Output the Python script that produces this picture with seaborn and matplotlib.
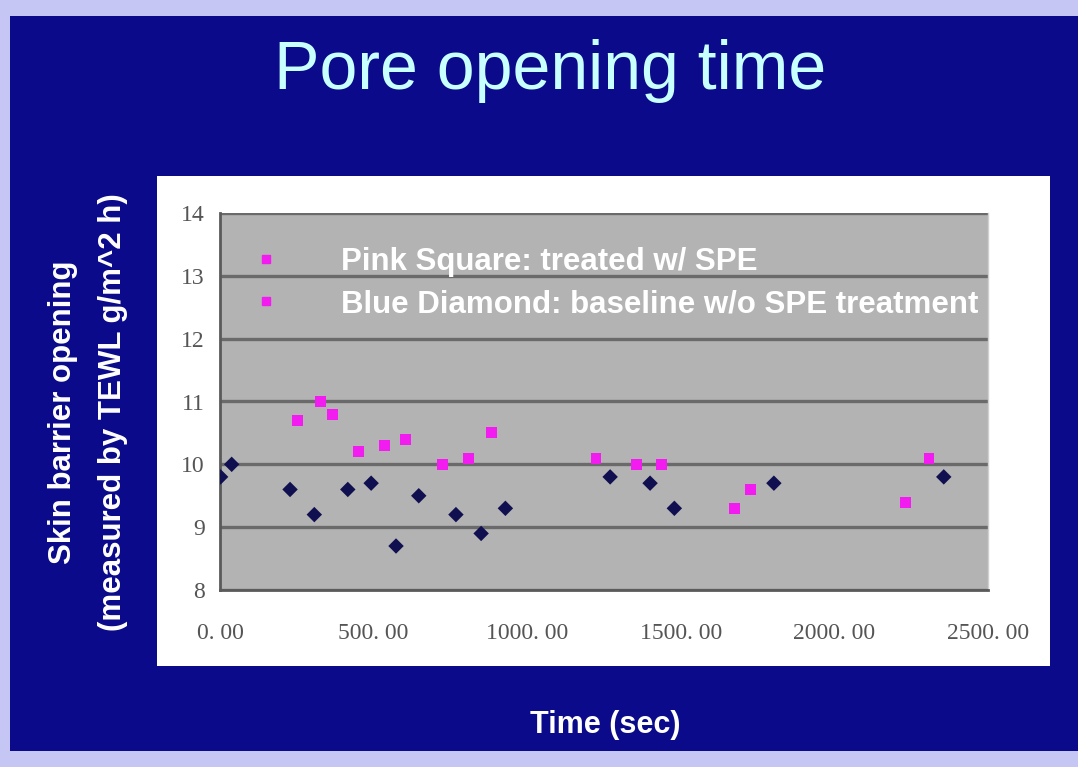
import matplotlib
matplotlib.use("Agg")
import matplotlib.pyplot as plt
import seaborn as sns
import pandas as pd
from matplotlib.patches import Rectangle
from matplotlib.lines import Line2D

# ---- data ----
treated_time = [253, 326, 367, 450, 535, 604, 723, 809, 885, 1224, 1356, 1438, 1674, 1728, 2232, 2308]
treated_tewl = [10.7, 11.0, 10.8, 10.2, 10.3, 10.4, 10.0, 10.1, 10.5, 10.1, 10.0, 10.0, 9.3, 9.6, 9.4, 10.1]
baseline_time = [2, 38, 228, 307, 416, 492, 573, 647, 768, 850, 929, 1270, 1400, 1479, 1803, 2356]
baseline_tewl = [9.8, 10.0, 9.6, 9.2, 9.6, 9.7, 8.7, 9.5, 9.2, 8.9, 9.3, 9.8, 9.7, 9.3, 9.7, 9.8]
x_ticks = [0, 500, 1000, 1500, 2000, 2500]
x_tick_labels = ["0. 00", "500. 00", "1000. 00", "1500. 00", "2000. 00", "2500. 00"]
y_ticks = [8, 9, 10, 11, 12, 13, 14]
legend_labels = ["Pink Square: treated w/ SPE", "Blue Diamond: baseline w/o SPE treatment"]
title_text = "Pore opening time"
x_label = "Time (sec)"
y_label = "Skin barrier opening\n(measured by TEWL g/m^2 h)"

df = pd.DataFrame({
    "time": treated_time + baseline_time,
    "tewl": treated_tewl + baseline_tewl,
    "group": ["treated"] * len(treated_time) + ["baseline"] * len(baseline_time),
})

W, H = 1078, 767
sns.set_theme(style="white")
plt.rcParams["font.family"] = ["Liberation Sans", "DejaVu Sans"]

fig = plt.figure(figsize=(W / 100, H / 100), dpi=100)
fig.patch.set_facecolor("#c6c6f4")

def fr(x0, y0, x1, y1, color, z=0):
    # rectangle in pixel coords (top-left origin)
    fig.patches.append(Rectangle((x0 / W, 1 - y1 / H), (x1 - x0) / W, (y1 - y0) / H,
                                 transform=fig.transFigure, facecolor=color,
                                 edgecolor="none", zorder=z))

fr(10, 16, W, 751, "#0a0a8a", 0)      # slide blue
fr(157, 176, 1050, 666, "white", 1)   # white chart panel

# plot area
ax = fig.add_axes([220 / W, 1 - 590 / H, (988 - 220) / W, (590 - 213) / H])
ax.set_facecolor("#b3b3b3")
ax.set_zorder(2)

sns.scatterplot(data=df, x="time", y="tewl", hue="group", style="group",
                palette={"treated": "#f21cf0", "baseline": "#101050"},
                markers={"treated": "s", "baseline": "D"},
                s=62, linewidth=0, ax=ax, legend=False, zorder=3)

ax.set_xlim(0, 2500)
ax.set_ylim(8, 14)
ax.set_xticks(x_ticks)
ax.set_xticklabels(x_tick_labels)
ax.set_yticks(y_ticks)
ax.set_yticklabels([str(v) for v in y_ticks])
ax.yaxis.grid(True, color="#6a6a6a", linewidth=2.4)
ax.xaxis.grid(False)
ax.set_axisbelow(True)
for side in ["left", "bottom"]:
    ax.spines[side].set_color("#5a5a5a")
    ax.spines[side].set_linewidth(2)
ax.spines["top"].set_visible(False)
ax.spines["right"].set_color("#d0d0d0")
ax.spines["right"].set_linewidth(1)

ax.tick_params(axis="x", direction="in", length=5, color="#666666", pad=24,
               labelsize=17, labelcolor="#555555")
ax.tick_params(axis="y", length=0, pad=11, labelsize=17, labelcolor="#555555")
for lab in ax.get_xticklabels() + ax.get_yticklabels():
    lab.set_family(["Liberation Serif", "DejaVu Serif"])
ax.set_xlabel("")
ax.set_ylabel("")

# legend (both markers pink as in the source)
handles = [Line2D([], [], marker="s", linestyle="none", color="#f21cf0", markersize=6),
           Line2D([], [], marker="s", linestyle="none", color="#f21cf0", markersize=6)]
leg = ax.legend(handles, legend_labels, loc="upper left", bbox_to_anchor=(0.039, 0.91),
                frameon=False, borderaxespad=0, borderpad=0, handlelength=1.0,
                handletextpad=1.9, labelspacing=0.4,
                prop={"family": "Liberation Sans", "weight": "bold", "size": 22.5})
for t in leg.get_texts():
    t.set_color("white")

# slide texts
fig.text(550 / W, 1 - 89 / H, title_text, ha="center", va="baseline",
         color="#c8ffff", fontsize=49, zorder=5)
fig.text(605 / W, 1 - 725 / H, x_label, ha="center", va="center",
         color="white", fontsize=22, fontweight="bold", zorder=5)
fig.text(88 / W, 1 - 412 / H, y_label, ha="center", va="center", rotation=90,
         color="white", fontsize=22.5, fontweight="bold", linespacing=1.85,
         multialignment="center", zorder=5)

fig.savefig("out.png", dpi=100, facecolor=fig.get_facecolor())
